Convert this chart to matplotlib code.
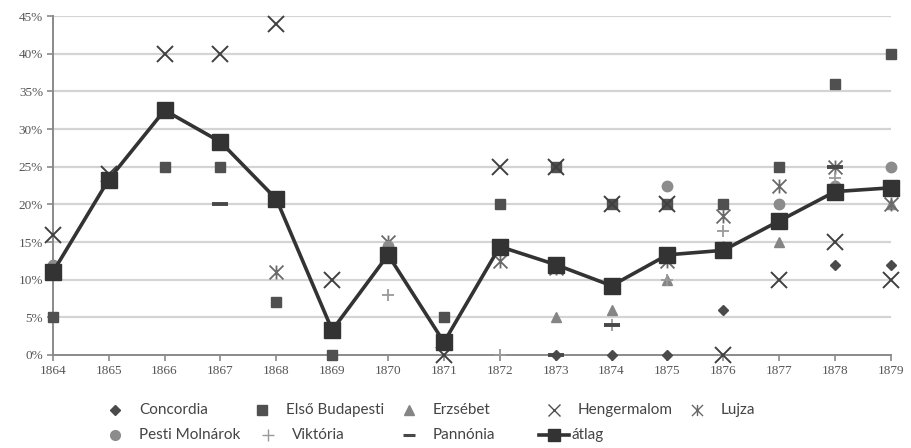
import numpy as np
import matplotlib
matplotlib.use("Agg")
import matplotlib.pyplot as plt
from matplotlib.path import Path
from matplotlib.lines import Line2D
from matplotlib.ticker import FuncFormatter

nan = np.nan
years = list(range(1864, 1880))
year_labels = [str(y) for y in years]
yticks = [0, 5, 10, 15, 20, 25, 30, 35, 40, 45]

concordia = [nan] * 9 + [0, 0, 0, 6, 20, 12, 12]
elso_budapesti = [5, 23, 25, 25, 7, 0, nan, 5, 20, 25, 20, 20, 20, 25, 36, 40]
erzsebet = [nan] * 9 + [5, 6, 10, 14.5, 15, nan, 20]
hengermalom = [16, 24, 40, 40, 44, 10, nan, 0, 25, 25, 20, 20, 0, 10, 15, 10]
lujza = [nan, nan, nan, nan, 11, nan, 15, nan, 12.5, 11.5, nan, 12.5, 18.5, 22.5, 25, 20]
pesti_molnarok = [12, nan, nan, nan, nan, nan, 14.5, nan, nan, nan, nan, 22.5, nan, 20, 22.5, 25]
viktoria = [nan] * 6 + [8, nan, 0, nan, 4, 10, 16.5, nan, 23.5, nan]
pannonia = [nan, nan, nan, 20, nan, nan, nan, nan, nan, 0, 4, nan, nan, nan, 25, nan]
atlag = [11, 23.3, 32.5, 28.3, 20.7, 3.3, 13.3, 1.7, 14.4, 12, 9.2, 13.3, 13.9, 17.8, 21.7, 22.2]

star_path = Path([(-1, -1), (1, 1), (-1, 1), (1, -1), (0, -1), (0, 1)],
                 [Path.MOVETO, Path.LINETO, Path.MOVETO, Path.LINETO, Path.MOVETO, Path.LINETO])

W, H = 911, 448
fig = plt.figure(figsize=(W / 100, H / 100), dpi=100)
ax = fig.add_axes([0.058, 0.2076, 0.92, 0.7564])

ax.set_xlim(1864, 1879)
ax.set_ylim(0, 45)
for t in yticks[1:]:
    ax.axhline(t, color="#d4d4d4", lw=1.6, zorder=0)

styles = [
    ("Concordia", concordia, dict(marker="D", ms=5.5, color="#4a4a4a", mec="#4a4a4a")),
    ("Első Budapesti", elso_budapesti, dict(marker="s", ms=7.5, color="#505050", mec="#505050")),
    ("Erzsébet", erzsebet, dict(marker="^", ms=7, color="#858585", mec="#858585")),
    ("Hengermalom", hengermalom, dict(marker="x", ms=12, mew=1.4, color="#404040")),
    ("Lujza", lujza, dict(marker=star_path, ms=10, mew=1.3, color="#6a6a6a", fillstyle="none")),
    ("Pesti Molnárok", pesti_molnarok, dict(marker="o", ms=7.5, color="#8c8c8c", mec="#8c8c8c")),
    ("Viktória", viktoria, dict(marker="+", ms=9, mew=1.3, color="#9a9a9a")),
    ("Pannónia", pannonia, dict(marker="_", ms=11, mew=2.8, color="#484848")),
]
leg_styles = {
    "Concordia": dict(marker="D", ms=5, color="#4a4a4a", mec="#4a4a4a"),
    "Első Budapesti": dict(marker="s", ms=7, color="#505050", mec="#505050"),
    "Erzsébet": dict(marker="^", ms=6.5, color="#858585", mec="#858585"),
    "Hengermalom": dict(marker="x", ms=8, mew=1.0, color="#505050"),
    "Lujza": dict(marker=star_path, ms=8, mew=1.0, color="#6a6a6a", fillstyle="none"),
    "Pesti Molnárok": dict(marker="o", ms=7, color="#8c8c8c", mec="#8c8c8c"),
    "Viktória": dict(marker="+", ms=8, mew=1.0, color="#9a9a9a"),
    "Pannónia": dict(marker="_", ms=9, mew=2.2, color="#484848"),
}
for name, vals, st in styles:
    ax.plot(years, vals, linestyle="none", clip_on=False, zorder=3, label=name, **st)
ax.plot(years, atlag, color="#333333", lw=2.6, marker="s", ms=11, mec="#333333",
        clip_on=False, zorder=4, label="átlag")

for s in ["top", "right"]:
    ax.spines[s].set_visible(False)
for s in ["left", "bottom"]:
    ax.spines[s].set_color("#8a8a8a")
    ax.spines[s].set_linewidth(1.4)

ax.set_xticks(years)
ax.set_xticklabels(year_labels)
ax.set_yticks(yticks)
ax.yaxis.set_major_formatter(FuncFormatter(lambda v, p: "%d%%" % v))
ax.tick_params(axis="both", colors="#8a8a8a", labelcolor="#555555", length=4, width=1.2,
               labelsize=9.5)
for lab in ax.get_xticklabels() + ax.get_yticklabels():
    lab.set_fontfamily("Liberation Serif")
ax.tick_params(axis="x", pad=3)
ax.tick_params(axis="y", pad=3)

# legend laid out as in the original (two rows, fixed columns)
legend_layout = [
    ("Concordia", 115, 410), ("Első Budapesti", 262, 410), ("Erzsébet", 409, 410),
    ("Hengermalom", 554, 410), ("Lujza", 697, 410),
    ("Pesti Molnárok", 115, 435), ("Viktória", 268, 435), ("Pannónia", 409, 435),
]
for name, xc, yc in legend_layout:
    fig.add_artist(Line2D([xc / W], [1 - yc / H], transform=fig.transFigure,
                          linestyle="none", **leg_styles[name]))
    fig.text((xc + 24) / W, 1 - yc / H, name, ha="left", va="center",
             family="Lato", fontsize=11, color="#444444")
ya = 1 - 435 / H
fig.add_artist(Line2D([539 / W, 569 / W], [ya, ya], transform=fig.transFigure,
                      color="#333333", lw=2.6))
fig.add_artist(Line2D([554 / W], [ya], transform=fig.transFigure, linestyle="none",
                      marker="s", ms=8, color="#333333"))
fig.text(572 / W, ya, "átlag", ha="left", va="center", family="Lato", fontsize=11,
         color="#444444")

fig.savefig("out.png", dpi=100)
